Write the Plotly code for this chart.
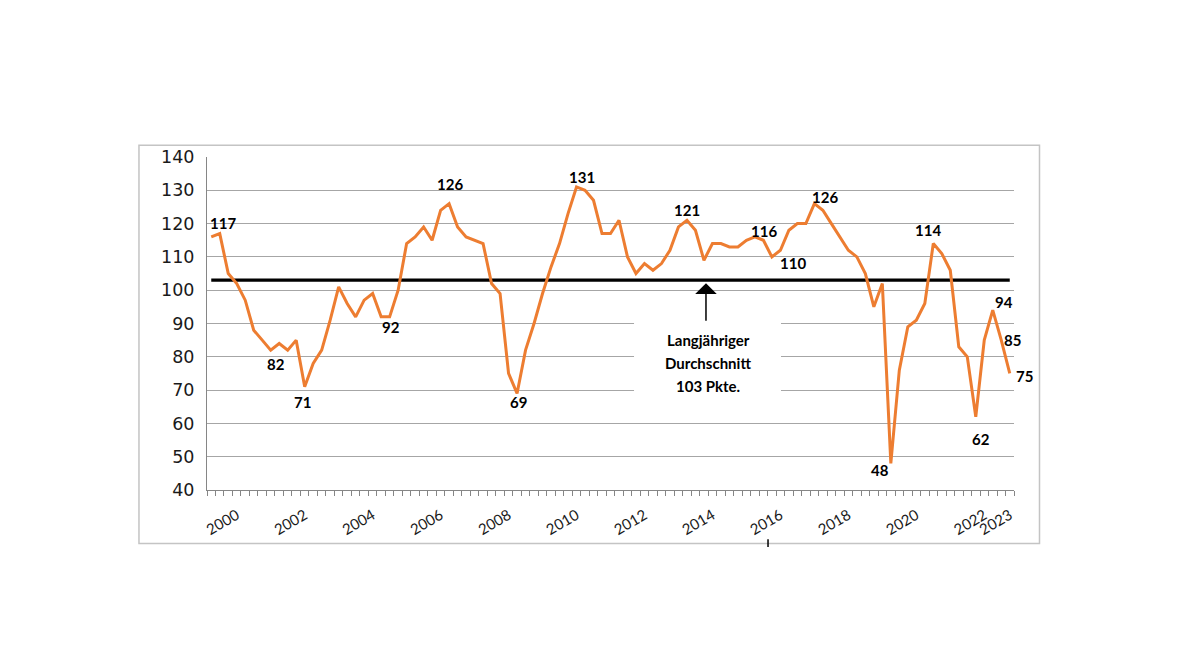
import plotly.graph_objects as go

# ---- data ----
values = [116, 117, 105, 102, 97, 88, 85, 82, 84, 82,
          85, 71, 78, 82, 91, 101, 96, 92, 97, 99,
          92, 92, 100, 114, 116, 119, 115, 124, 126, 119,
          116, 115, 114, 102, 99, 75, 69, 82, 90, 99,
          107, 114, 123, 131, 130, 127, 117, 117, 121, 110,
          105, 108, 106, 108, 112, 119, 121, 118, 109, 114,
          114, 113, 113, 115, 116, 115, 110, 112, 118, 120,
          120, 126, 124, 120, 116, 112, 110, 105, 95, 102,
          48, 76, 89, 91, 96, 114, 111, 106, 83, 80,
          62, 85, 94, 85, 75]
x_index = list(range(len(values)))

tick_positions = [3, 11, 19, 27, 35, 43, 51, 59, 67, 75, 83, 91, 94]
tick_labels = ["2000", "2002", "2004", "2006", "2008", "2010", "2012",
               "2014", "2016", "2018", "2020", "2022", "2023"]

average_value = 103
average_text = ["Langjähriger", "Durchschnitt", "103 Pkte."]

# indices of labelled points
label_idx = [1, 7, 11, 21, 28, 36, 43, 56, 64, 66, 71, 80, 85, 90, 92, 93, 94]
# label offsets in px (dx right, dy down)
label_off = {1: (3, -11), 7: (5, 14), 11: (-2, 15), 21: (1, 10), 28: (1, -20),
             36: (1, 9), 43: (5, -10), 56: (0, -10), 64: (9, -6), 66: (21, 6),
             71: (11, -7), 80: (-11, 7), 85: (-5, -14), 90: (5, 22), 92: (11, -8),
             93: (11, 0), 94: (15, 3)}

ORANGE = "#ED7D31"
GRID = "#a6a6a6"
AXIS = "#868686"

fig = go.Figure()

fig.add_trace(go.Scatter(
    x=[x_index[0], x_index[-1]], y=[average_value, average_value],
    mode="lines", line=dict(color="black", width=3.2),
    hoverinfo="skip", showlegend=False))

fig.add_trace(go.Scatter(
    x=x_index, y=values, mode="lines",
    line=dict(color=ORANGE, width=3), showlegend=False))

annotations = []
for i in label_idx:
    dx, dy = label_off[i]
    annotations.append(dict(
        x=x_index[i], y=values[i], text=str(values[i]), showarrow=False,
        xshift=dx, yshift=-dy, xanchor="center", yanchor="middle",
        font=dict(family="Lato", size=15, color="black", weight="bold")))

# arrow to the average line
annotations.append(dict(
    x=58.24, y=102.1, ax=58.24, ay=90.4, axref="x", ayref="y",
    xref="x", yref="y", text="", showarrow=True,
    arrowhead=1, arrowsize=2.4, arrowwidth=1.5, arrowcolor="black"))

for k, line in enumerate(average_text):
    annotations.append(dict(
        x=58.48, y=[85.1, 78.2, 71.3][k], xref="x", yref="y",
        text=line, showarrow=False, xanchor="center", yanchor="middle",
        font=dict(family="Lato", size=15, color="black", weight="bold")))

shapes = [
    # white box behind the text
    dict(type="rect", xref="x", yref="y", x0=49.77, x1=67.07, y0=63.4, y1=97.6,
         fillcolor="white", line=dict(width=0), layer="above"),
    # chart border
    dict(type="rect", xref="paper", yref="paper", x0=-0.0843, x1=1.0316,
         y0=-0.1605, y1=1.035, line=dict(color="#c4c4c4", width=1.5),
         fillcolor="rgba(0,0,0,0)"),
    # small mark below border
    dict(type="line", xref="paper", yref="paper", x0=0.6952, x1=0.6952,
         y0=-0.148, y1=-0.171, line=dict(color="black", width=1.5)),
]

fig.update_layout(
    width=1174, height=657, autosize=False,
    margin=dict(l=199, r=168, t=149, b=175),
    paper_bgcolor="white", plot_bgcolor="white",
    annotations=annotations, shapes=shapes,
    xaxis=dict(
        range=[-0.5, len(values) - 0.5],
        tickmode="array", tickvals=tick_positions, ticktext=tick_labels,
        tickangle=-30, ticks="outside", ticklen=10, tickcolor="rgba(0,0,0,0)",
        tickfont=dict(family="Lato", size=15, color="#1a1a1a"),
        showgrid=False, zeroline=False,
        showline=True, linecolor=AXIS, linewidth=1,
        minor=dict(tickmode="linear", tick0=-0.5, dtick=1, ticks="outside",
                   ticklen=5, tickcolor=AXIS, tickwidth=1, showgrid=False),
    ),
    yaxis=dict(
        range=[40, 140], dtick=10, tick0=40,
        ticks="outside", ticklen=8, tickcolor="rgba(0,0,0,0)",
        tickfont=dict(family="DejaVu Sans", size=17.5, color="#1a1a1a"),
        showgrid=True, gridcolor=GRID, gridwidth=1.2, zeroline=False,
        showline=True, linecolor=AXIS, linewidth=1,
    ),
)

fig.write_html("out.html")
